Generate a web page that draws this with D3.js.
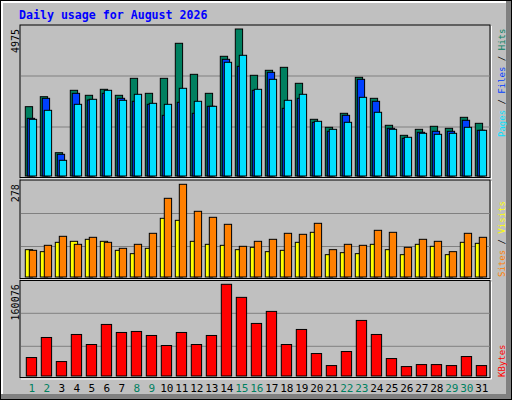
<!DOCTYPE html>
<html>
  <head>
    <meta charset="utf-8">
    <title>Daily usage</title>
    <script src="https://cdn.jsdelivr.net/npm/d3@7"></script>
    <style>
      body { margin: 0; background: #fff; }
      text { font-family: "DejaVu Sans Mono", monospace; }
    </style>
  </head>
  <body>
    <svg id="chart" width="512" height="400"></svg>
    <script>
      // data
      days = d3.range(1, 32);
      weekends = [1, 2, 8, 9, 15, 16, 22, 23, 29, 30];
      hits = [2346, 2684, 789, 2900, 2731, 2934, 2731, 3306, 2798, 3306, 4491, 3441, 2798, 4051, 4975, 3408,
              3577, 3678, 3137, 1919, 1648, 2122, 3340, 2629, 1716, 1377, 1580, 1682, 1614, 1986, 1783];
      files = [1952, 2629, 734, 2798, 2572, 2798, 2629, 2528, 2426, 2054, 2494, 2122, 2359, 3949, 3712, 2900,
               3509, 2291, 2629, 1817, 1513, 2054, 3272, 2528, 1614, 1276, 1479, 1513, 1513, 1885, 1547];
      pages = [1918, 2223, 531, 2426, 2596, 2900, 2562, 2765, 2460, 2426, 2968, 2528, 2359, 3848, 4085, 2934,
               3272, 2562, 2765, 1851, 1580, 1817, 2663, 2156, 1580, 1310, 1445, 1411, 1445, 1648, 1547];
      visits = [82, 76, 104, 107, 113, 107, 80, 70, 86, 176, 170, 107, 98, 95, 82, 89,
                76, 80, 104, 134, 67, 73, 70, 98, 82, 67, 98, 92, 67, 104, 101];
      sites = [80, 95, 122, 98, 119, 104, 86, 98, 131, 236, 278, 197, 179, 158, 92, 107,
               113, 131, 128, 161, 82, 98, 95, 140, 134, 89, 113, 107, 76, 131, 119];
      kbytes = [32222, 67240, 25215, 72493, 54982, 90000, 75993, 77744, 70740, 53230, 75993, 54982, 70740, 160076, 137278, 91752,
                112764, 54982, 81247, 39222, 18210, 42724, 97005, 72493, 30467, 16459, 19961, 19961, 18210, 33969, 18210];

      svg = d3.select("#chart");

      // frame
      svg.append("rect").attr("x", 0).attr("y", 0).attr("width", 512).attr("height", 400).attr("fill", "#000");
      svg.append("rect").attr("x", 1).attr("y", 1).attr("width", 510).attr("height", 398).attr("fill", "#808080");
      svg.append("rect").attr("x", 1).attr("y", 1).attr("width", 505).attr("height", 393).attr("fill", "#fff");
      svg.append("rect").attr("x", 3).attr("y", 3).attr("width", 503).attr("height", 391).attr("fill", "#c0c0c0");

      svg.append("text")
        .attr("x", 19).attr("y", 19)
        .attr("fill", "#0000ff")
        .style("font-size", "11.6px").style("font-weight", "bold")
        .text("Daily usage for August 2026");

      x = d3.scaleLinear([1, 31], [25.3, 475.3]);

      panels = [
        { top: 25, bottom: 177.5, base: 176, peak: 29, max: 4975, grids: [127, 76],
          series: [[hits, "#008060", 0], [files, "#0040ff", 2], [pages, "#00e0ff", 4]], w: 7.3,
          label: [["Pages", "#00e0ff"], ["Files", "#0040ff"], ["Hits", "#008060"]], labelY: 137 },
        { top: 180, bottom: 278.5, base: 277, peak: 184.3, max: 278, grids: [246.5, 213.5],
          series: [[visits, "#ffff00", 0], [sites, "#ff8000", 4]], w: 7.3,
          label: [["Sites", "#ff8000"], ["Visits", "#ffff00"]], labelY: 277 },
        { top: 280.5, bottom: 377.5, base: 376, peak: 284.3, max: 160076, grids: [346.3, 313.3],
          series: [[kbytes, "#ff0000", 1]], w: 10.3,
          label: [["KBytes", "#ff0000"]], labelY: 377 }
      ];

      panels.forEach(function(p) {
        var y = d3.scaleLinear([0, p.max], [p.base, p.peak]);

        svg.append("rect")
          .attr("x", 20).attr("y", p.top)
          .attr("width", 470).attr("height", p.bottom - p.top)
          .attr("fill", "#c0c0c0").attr("stroke", "#000").attr("stroke-width", 1);
        svg.append("path")
          .attr("d", "M490.5," + p.top + "V" + (p.bottom + 0.5) + "H20")
          .attr("stroke", "#fff").attr("fill", "none").attr("transform", "translate(1,1)");

        svg.selectAll(null).data(p.grids).enter().append("line")
          .attr("x1", 21).attr("x2", 490)
          .attr("y1", function(d) { return d; }).attr("y2", function(d) { return d; })
          .attr("stroke", "#808080").attr("stroke-width", 1);

        p.series.forEach(function(s) {
          svg.selectAll(null).data(s[0]).enter().append("rect")
            .attr("x", function(d, i) { return x(days[i]) + s[2]; })
            .attr("y", function(d) { return y(d); })
            .attr("width", p.w)
            .attr("height", function(d) { return p.base - y(d); })
            .attr("fill", s[1]).attr("stroke", "#000").attr("stroke-width", 1);
        });

        svg.append("text")
          .attr("transform", "translate(19," + p.peak + ") rotate(-90)")
          .attr("text-anchor", "end")
          .style("font-size", "10px")
          .text(p.max);

        var t = svg.append("text")
          .attr("transform", "translate(505," + p.labelY + ") rotate(-90)")
          .style("font-size", "9px");
        p.label.forEach(function(l, i) {
          if (i > 0) t.append("tspan").attr("fill", "#000").text(" / ");
          t.append("tspan").attr("fill", l[1]).text(l[0]);
        });
      });

      svg.selectAll(".day").data(days).enter().append("text")
        .attr("x", function(d) { return x(d) + 6.5; })
        .attr("y", 392)
        .attr("text-anchor", "middle")
        .style("font-size", "11px")
        .attr("fill", function(d) { return weekends.includes(d) ? "#008060" : "#000"; })
        .text(function(d) { return d; });
    </script>
  </body>
</html>
